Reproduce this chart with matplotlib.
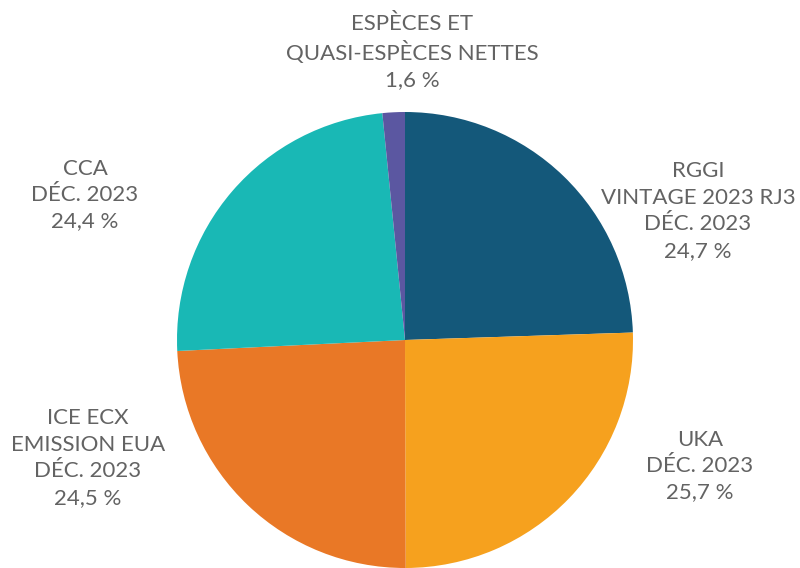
import matplotlib.pyplot as plt

# slice values (%), clockwise from 12 o'clock
labels = ['RGGI\nVINTAGE 2023 RJ3\nDÉC. 2023\n24,7 %',
          'UKA\nDÉC. 2023\n25,7 %',
          'ICE ECX\nEMISSION EUA\nDÉC. 2023\n24,5 %',
          'CCA\nDÉC. 2023\n24,4 %',
          'ESPÈCES ET\nQUASI-ESPÈCES NETTES\n1,6 %']
values = [24.7, 25.7, 24.5, 24.4, 1.6]
colors = ['#14587a', '#f6a11e', '#e97826', '#19b8b5', '#5b57a1']

# label anchor points, pixels from top-left of the 800x568 canvas
label_pos = [(698, 211), (700, 466), (88, 458), (85, 195), (412, 52)]

W, H = 800, 568
plt.rcParams['font.family'] = ['Lato', 'DejaVu Sans']

fig = plt.figure(figsize=(8, 5.68), dpi=100)
ax = fig.add_axes([0, 0, 1, 1])

ax.pie(values, colors=colors, startangle=90, counterclock=False,
       center=(405, H - 340), radius=228, frame=True,
       wedgeprops=dict(linewidth=0))
ax.set_xlim(0, W)
ax.set_ylim(0, H)
ax.set_aspect('equal')
ax.axis('off')

for lab, (x, y) in zip(labels, label_pos):
    ax.text(x, H - y, lab, ha='center', va='center', fontsize=16,
            color='#636363', linespacing=1.4)

fig.savefig('out.png', dpi=100)
